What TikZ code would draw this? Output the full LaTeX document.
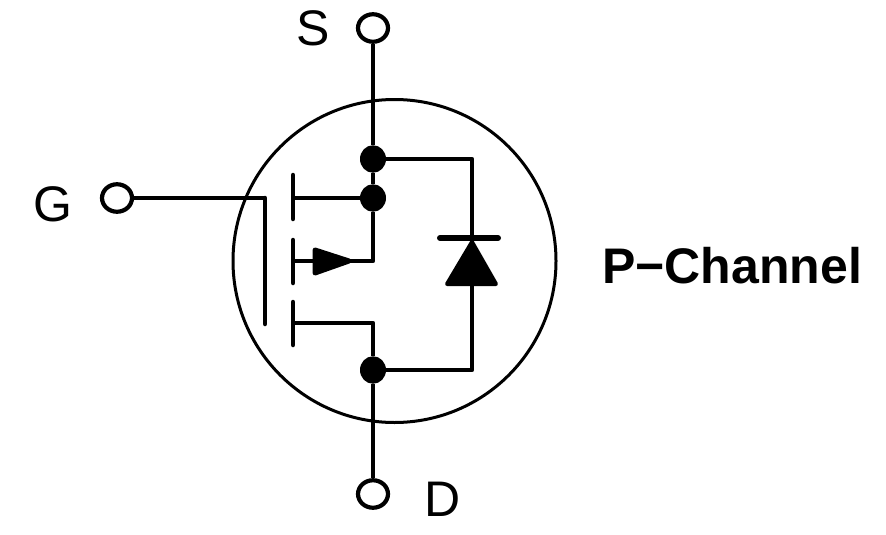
\documentclass[tikz,border=0pt]{standalone}
\usepackage{fontspec}
\setmainfont{Liberation Sans}
\usetikzlibrary{shapes}

\begin{document}
\begin{tikzpicture}
[x=1pt,y=-1pt,line join=round,%
  lineDecorate/.style={-,line width=4.2pt},%
  barDecorate/.style={-,line width=4.5pt,line cap=round},%
  termDecorate/.style={shape=ellipse,inner sep=0pt,minimum width=30pt,minimum height=27.5pt,draw,line width=4.2pt,fill=white},%
  dotDecorate/.style={shape=ellipse,inner sep=0pt,minimum width=26pt,minimum height=27.5pt,fill=black},%
  labelDecorate/.style={inner sep=0pt,font=\fontsize{50}{50}\selectfont}]
\useasboundingbox (0,0) rectangle (886,535);
%% package outline
\node[shape=circle,inner sep=0pt,minimum size=323pt,draw,line width=3pt] (case) at (394.5,261) {};
%% terminals and junctions
\foreach \nodename/\x/\y in {S/373/28, G/117/198, D/373/494}
{
  \node[termDecorate] (\nodename) at (\x,\y) {};
}
\foreach \nodename/\x/\y in {top/373/159, mid/373/198, low/373/370}
{
  \node[dotDecorate] (\nodename) at (\x,\y) {};
}
%% corners and free ends
\foreach \nodename/\x/\y in {
  gateBend/265/198, gateEnd/265/324, bodyL/293/261, bodyR/373/261,
  drainL/293/323, drainR/373/323, srcL/293/198,
  diodeTop/472/159, diodeLow/472/370, diodeBarL/440/238, diodeBarR/498/238,
  chanA/293/175, chanB/293/219, chanC/293/240, chanD/293/283, chanE/293/302, chanF/293/345}
{
  \coordinate (\nodename) at (\x,\y);
}
%% connect nodes
\draw[lineDecorate] (S) -- (top) -- (mid) -- (bodyR) -- (bodyL);
\draw[lineDecorate] (srcL) -- (mid);
\draw[lineDecorate] (drainL) -- (drainR) -- (low) -- (D);
\draw[lineDecorate] (top) -- (diodeTop) -- (diodeLow) -- (low);
\draw[lineDecorate] (G) -- (gateBend);
\draw[barDecorate] (gateBend) -- (gateEnd);
%% channel segments
\foreach \a/\b in {chanA/chanB, chanC/chanD, chanE/chanF}
{
  \draw[barDecorate] (\a) -- (\b);
}
%% body arrow and diode
\draw[fill=black,line width=5pt,line join=round] (315,250) -- (349,261) -- (315,273) -- cycle;
\draw[fill=black,line width=4pt,line join=round] (472,242) -- (496,284) -- (447,284) -- cycle;
\draw[barDecorate,line width=6pt] (diodeBarL) -- (diodeBarR);
%% labels
\node[labelDecorate] (labelS) at (313,28) {S};
\node[labelDecorate] (labelG) at (53,204) {G};
\node[labelDecorate] (labelD) at (443,499) {D};
\node[labelDecorate,anchor=west,font=\fontsize{50}{50}\selectfont\bfseries] (labelP) at (602,266) {P−Channel};
\end{tikzpicture}
\end{document}
